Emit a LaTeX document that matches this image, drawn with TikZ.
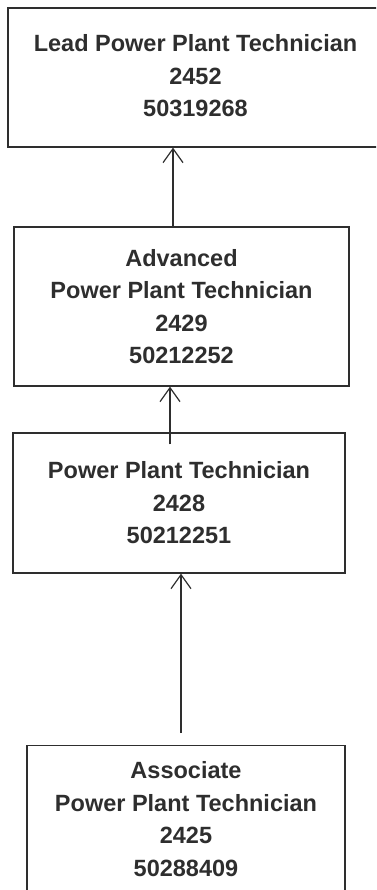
\documentclass[tikz,border=0pt]{standalone}
\usepackage{fontspec}
\setmainfont{Liberation Sans}
\usetikzlibrary{arrows.meta}
\definecolor{ink}{HTML}{2E2E2E}
\begin{document}
\begin{tikzpicture}[x=1pt,y=-1pt,
  jobbox/.style={draw=ink, line width=1.3pt, rectangle, inner sep=0pt, align=center,
    text=ink, font={\fontsize{23.5}{32.5}\selectfont\bfseries}},
  arr/.style={draw=ink, line width=1.2pt, -{Straight Barb[length=14pt,width=20pt,line width=1.2pt]}}]
\useasboundingbox (0,0) rectangle (376,890);
\clip (0,0) rectangle (376,890);
\node[jobbox, minimum width=395pt, minimum height=139pt] (b1) at (205.5,77.5) {};
\node[font={\fontsize{23.5}{32.5}\selectfont\bfseries}, text=ink, align=center, inner sep=0pt] (t1) at (195.5,76)
  {Lead Power Plant Technician\\2452\\50319268};
\node[jobbox, minimum width=335pt, minimum height=159pt] (b2) at (181.5,306.5)
  {Advanced\\Power Plant Technician\\2429\\50212252};
\node[jobbox, minimum width=332pt, minimum height=140pt] (b3) at (179,503)
  {Power Plant Technician\\2428\\50212251};
\node[jobbox, minimum width=318pt, minimum height=160pt, anchor=north] (b4) at (186,745)
  {\\};
\node[font={\fontsize{23.5}{32.5}\selectfont\bfseries}, text=ink, align=center, inner sep=0pt] (t4) at (186,819)
  {Associate\\Power Plant Technician\\2425\\50288409};
\draw[arr] ([xshift=-8.5pt]b2.north) -- ([xshift=-8.5pt]b2.north |- b1.south);
\draw[arr] ([xshift=-9pt,yshift=-12pt]b3.north) -- ([xshift=-9pt]b3.north |- b2.south);
\draw[arr] ([xshift=-5pt,yshift=12pt]b4.north) -- ([xshift=-5pt]b4.north |- b3.south);
\end{tikzpicture}
\end{document}
